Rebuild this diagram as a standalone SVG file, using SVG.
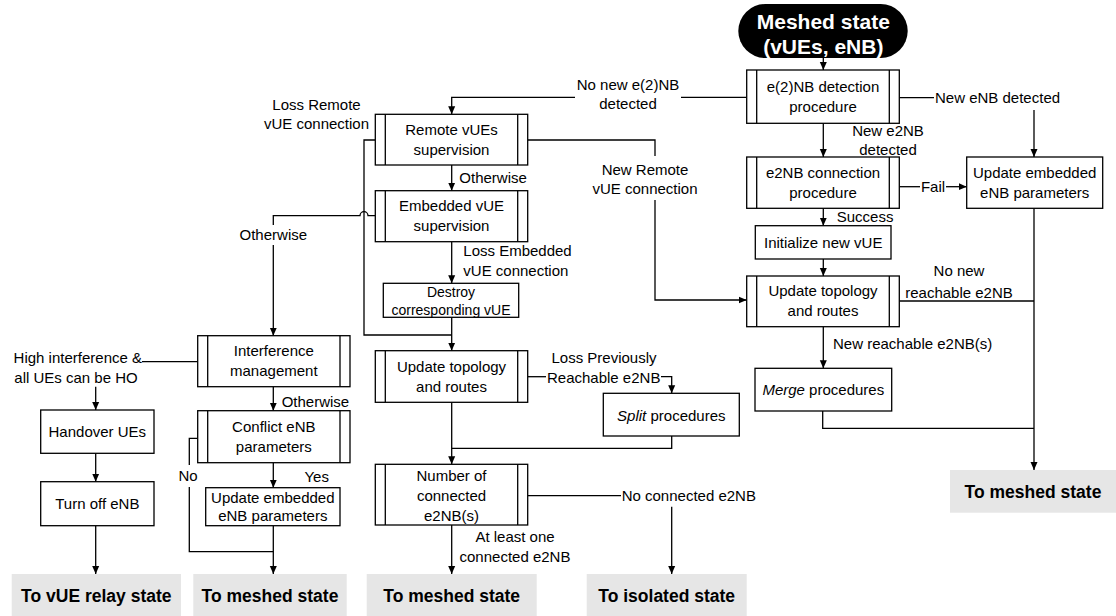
<svg xmlns="http://www.w3.org/2000/svg" width="1116" height="616" viewBox="0 0 1116 616">
  <style>
    text { font-family: "Liberation Sans", Arial, sans-serif; font-size: 15px; fill: #000; }
    .c { text-anchor: middle; }
    .e { text-anchor: end; }
    .box { fill: #fff; stroke: #000; stroke-width: 1.3; }
    .bar { stroke: #000; stroke-width: 1.3; }
    .term { fill: #e6e6e6; stroke: none; }
    .tt { font-weight: bold; font-size: 17.5px; text-anchor: middle; }
    .start { font-weight: bold; font-size: 21px; fill: #fff; text-anchor: middle; }
    .ln { fill: none; stroke: #000; stroke-width: 1.3; }
    .ar { fill: none; stroke: #000; stroke-width: 1.3; marker-end: url(#arr); }
  </style>
  <defs>
    <marker id="arr" markerUnits="userSpaceOnUse" markerWidth="9" markerHeight="9" viewBox="0 0 9 9" refX="8" refY="4.5" orient="auto">
      <path d="M0,1 L8,4.5 L0,8 Z" fill="#000"/>
    </marker>
  </defs>

  <rect width="1116" height="616" fill="#fff"/>

  <!-- connectors -->
  <g id="connectors">
    <path class="ar" d="M823.3,58 V70"/>
    <path class="ln" d="M746.7,97.3 H681"/>
    <path class="ar" d="M575,97.3 H451.7 V114.3"/>
    <path class="ln" d="M899.3,97.7 H934"/>
    <path class="ar" d="M1034,110 V157"/>
    <path class="ar" d="M823.3,123.3 V157"/>
    <path class="ln" d="M899.3,186.7 H920"/>
    <path class="ar" d="M946,186.7 H966.7"/>
    <path class="ar" d="M823.3,208.3 V225.7"/>
    <path class="ar" d="M823.3,259 V276"/>
    <path class="ln" d="M899.3,301 H1034"/>
    <path class="ar" d="M1034,208.3 V470"/>
    <path class="ar" d="M823.3,326.7 V368.3"/>
    <path class="ln" d="M822.7,411 V428.3 H1034"/>
    <path class="ln" d="M527.7,140 H655 V156"/>
    <path class="ar" d="M655,200 V300 H746.7"/>
    <path class="ln" d="M375.3,140 H364 V335 H451.7"/>
    <path class="ar" d="M451.7,335 V350.7"/>
    <path class="ar" d="M451.7,165 V190.7"/>
    <path class="ln" d="M375.3,215.7 H368 A4,4 0 0 0 360,215.7 H273.3 V225"/>
    <path class="ar" d="M273.3,245 V335.7"/>
    <path class="ar" d="M451.7,241.7 V283.3"/>
    <path class="ln" d="M451.7,317.3 V335"/>
    <path class="ln" d="M527.7,376.7 H546"/>
    <path class="ar" d="M661,376.7 H671.7 V393.3"/>
    <path class="ln" d="M671.7,436 V448.3 H451.7"/>
    <path class="ar" d="M451.7,402.3 V464.3"/>
    <path class="ln" d="M527.7,495.7 H621"/>
    <path class="ar" d="M671.7,506.7 V574"/>
    <path class="ar" d="M451.7,525 V574"/>
    <path class="ln" d="M197.7,361.7 H142"/>
    <path class="ar" d="M95.7,386.7 V410"/>
    <path class="ar" d="M95.7,453.3 V481.7"/>
    <path class="ar" d="M95.7,525.7 V574"/>
    <path class="ar" d="M273.3,386.7 V410.7"/>
    <path class="ln" d="M197.7,438.3 H189.3 V465"/>
    <path class="ln" d="M189.3,487 V551.7 H273.3"/>
    <path class="ar" d="M273.3,462.7 V487.7"/>
    <path class="ar" d="M273.3,525.7 V574"/>

    <!-- connector labels -->
    <text class="c" x="628" y="90">No new e(2)NB</text>
    <text class="c" x="628" y="109.3">detected</text>
    <text x="935" y="102.7">New eNB detected</text>
    <text class="c" x="888" y="136">New e2NB</text>
    <text class="c" x="888" y="155">detected</text>
    <text class="c" x="933" y="191.7">Fail</text>
    <text x="836.7" y="221.7">Success</text>
    <text class="c" x="959" y="276">No new</text>
    <text class="c" x="959" y="297.7">reachable e2NB</text>
    <text x="833" y="349">New reachable e2NB(s)</text>
    <text class="c" x="645" y="175">New Remote</text>
    <text class="c" x="645" y="194.3">vUE connection</text>
    <text class="c" x="316.5" y="110">Loss Remote</text>
    <text class="c" x="316.5" y="129.3">vUE connection</text>
    <text x="459.3" y="182.7">Otherwise</text>
    <text class="c" x="273.3" y="240">Otherwise</text>
    <text x="463.3" y="255.7">Loss Embedded</text>
    <text x="463.3" y="275.7">vUE connection</text>
    <text class="c" x="604" y="363.3">Loss Previously</text>
    <text class="c" x="603.7" y="383.3">Reachable e2NB</text>
    <text x="621.7" y="500.7">No connected e2NB</text>
    <text class="c" x="515" y="541.7">At least one</text>
    <text class="c" x="515" y="562.3">connected e2NB</text>
    <text class="e" x="142" y="363.3">High interference &amp;</text>
    <text class="c" x="76" y="383.3">all UEs can be HO</text>
    <text x="281.7" y="406.7">Otherwise</text>
    <text class="c" x="188" y="481">No</text>
    <text class="c" x="316.7" y="482.3">Yes</text>
  </g>

  <!-- start state -->
  <g id="meshed-start">
    <rect x="738.3" y="4" width="169.4" height="54" rx="27" fill="#000"/>
    <text class="start" x="823.3" y="29">Meshed state</text>
    <text class="start" x="823.3" y="54">(vUEs, eNB)</text>
  </g>

  <!-- right column -->
  <g id="e2nb-detection">
    <rect class="box" x="746.7" y="70" width="152.6" height="53.3"/>
    <path class="bar" d="M756.7,70 V123.3 M889.3,70 V123.3"/>
    <text class="c" x="823" y="91.7">e(2)NB detection</text>
    <text class="c" x="823" y="111.7">procedure</text>
  </g>
  <g id="e2nb-connection">
    <rect class="box" x="746.7" y="157" width="152.6" height="51.3"/>
    <path class="bar" d="M756.7,157 V208.3 M889.3,157 V208.3"/>
    <text class="c" x="823" y="177.7">e2NB connection</text>
    <text class="c" x="823" y="197.7">procedure</text>
  </g>
  <g id="update-embedded-right">
    <rect class="box" x="966.7" y="157" width="136" height="51.3"/>
    <text class="c" x="1034.7" y="177.7">Update embedded</text>
    <text class="c" x="1034.7" y="197.7">eNB parameters</text>
  </g>
  <g id="initialize-vue">
    <rect class="box" x="755.3" y="225.7" width="135.7" height="33.3"/>
    <text class="c" x="823.2" y="247.5">Initialize new vUE</text>
  </g>
  <g id="update-topology-right">
    <rect class="box" x="746.7" y="276" width="152.6" height="50.7"/>
    <path class="bar" d="M756.7,276 V326.7 M889.3,276 V326.7"/>
    <text class="c" x="823" y="296.3">Update topology</text>
    <text class="c" x="823" y="316.3">and routes</text>
  </g>
  <g id="merge">
    <rect class="box" x="755" y="368.3" width="136.7" height="42.7"/>
    <text class="c" x="823.3" y="395"><tspan font-style="italic">Merge</tspan> procedures</text>
  </g>

  <!-- middle column -->
  <g id="remote-supervision">
    <rect class="box" x="375.3" y="114.3" width="152.4" height="50.7"/>
    <path class="bar" d="M385.3,114.3 V165 M517.7,114.3 V165"/>
    <text class="c" x="451.5" y="135">Remote vUEs</text>
    <text class="c" x="451.5" y="155">supervision</text>
  </g>
  <g id="embedded-supervision">
    <rect class="box" x="375.3" y="190.7" width="152.4" height="51"/>
    <path class="bar" d="M385.3,190.7 V241.7 M517.7,190.7 V241.7"/>
    <text class="c" x="451.5" y="211.3">Embedded vUE</text>
    <text class="c" x="451.5" y="231.3">supervision</text>
  </g>
  <g id="destroy-vue">
    <rect class="box" x="383.3" y="283.3" width="135.4" height="34"/>
    <text class="c" x="451" y="296.7" style="font-size:14px">Destroy</text>
    <text class="c" x="451" y="315.3" style="font-size:14px">corresponding vUE</text>
  </g>
  <g id="update-topology-mid">
    <rect class="box" x="375.3" y="350.7" width="152.4" height="51.6"/>
    <path class="bar" d="M385.3,350.7 V402.3 M517.7,350.7 V402.3"/>
    <text class="c" x="451.5" y="371.5">Update topology</text>
    <text class="c" x="451.5" y="391.5">and routes</text>
  </g>
  <g id="split">
    <rect class="box" x="603.3" y="393.3" width="136" height="42.7"/>
    <text class="c" x="671.3" y="420.7"><tspan font-style="italic">Split</tspan> procedures</text>
  </g>
  <g id="connected-count">
    <rect class="box" x="375.3" y="464.3" width="152.4" height="60.7"/>
    <path class="bar" d="M385.3,464.3 V525 M517.7,464.3 V525"/>
    <text class="c" x="451.5" y="481">Number of</text>
    <text class="c" x="451.5" y="501">connected</text>
    <text class="c" x="451.5" y="520.7">e2NB(s)</text>
  </g>

  <!-- left columns -->
  <g id="interference">
    <rect class="box" x="197.7" y="335.7" width="152.3" height="51"/>
    <path class="bar" d="M207.7,335.7 V386.7 M340,335.7 V386.7"/>
    <text class="c" x="273.8" y="356.3">Interference</text>
    <text class="c" x="273.8" y="376.3">management</text>
  </g>
  <g id="conflict">
    <rect class="box" x="197.7" y="410.7" width="152.3" height="52"/>
    <path class="bar" d="M207.7,410.7 V462.7 M340,410.7 V462.7"/>
    <text class="c" x="273.8" y="431.7">Conflict eNB</text>
    <text class="c" x="273.8" y="451.7">parameters</text>
  </g>
  <g id="update-embedded-left">
    <rect class="box" x="205.7" y="487.7" width="134.3" height="38"/>
    <text class="c" x="272.8" y="503">Update embedded</text>
    <text class="c" x="272.8" y="521">eNB parameters</text>
  </g>
  <g id="handover">
    <rect class="box" x="40.7" y="410" width="113.3" height="43.3"/>
    <text class="c" x="97.3" y="436.7">Handover UEs</text>
  </g>
  <g id="turn-off">
    <rect class="box" x="40.7" y="481.7" width="113.3" height="44"/>
    <text class="c" x="97.3" y="508.7">Turn off eNB</text>
  </g>

  <!-- exit states -->
  <g id="to-vue-relay">
    <rect class="term" x="11.7" y="574" width="169.3" height="42"/>
    <text class="tt" x="96.3" y="601.5">To vUE relay state</text>
  </g>
  <g id="to-meshed-left">
    <rect class="term" x="193.3" y="574" width="153.4" height="42"/>
    <text class="tt" x="270" y="601.5">To meshed state</text>
  </g>
  <g id="to-meshed-mid">
    <rect class="term" x="366.7" y="574" width="170" height="42"/>
    <text class="tt" x="451.7" y="601.5">To meshed state</text>
  </g>
  <g id="to-isolated">
    <rect class="term" x="586.7" y="574" width="160" height="42"/>
    <text class="tt" x="666.7" y="601.5">To isolated state</text>
  </g>
  <g id="to-meshed-right">
    <rect class="term" x="950" y="470" width="166" height="42.7"/>
    <text class="tt" x="1033" y="497.5">To meshed state</text>
  </g>
</svg>
